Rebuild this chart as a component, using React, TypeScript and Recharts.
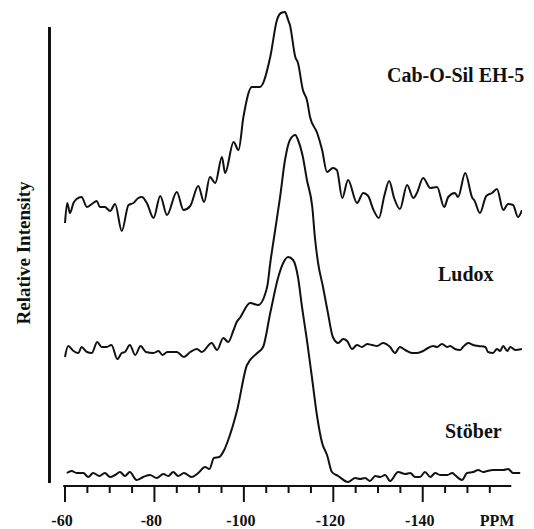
import { LineChart, Line, XAxis, YAxis, ReferenceLine } from "recharts"

// chemical shift (ppm) and relative intensity
const cabPpm = [
  -60.0, -60.5, -61.1, -61.9, -62.6, -63.7, -64.9, -66.0, -67.1, -67.8, -68.9, -70.1, -71.2, -72.7, -74.2,
  -75.3, -76.4, -77.2, -78.3, -79.8, -81.3, -82.8, -85.0, -86.5, -88.0, -89.8, -91.1, -92.4, -93.6, -95.1,
  -95.8, -97.7, -98.8, -99.9, -101.8, -103.6, -105.9, -107.4, -108.3, -109.2, -109.9, -110.3, -111.5, -112.1,
  -113.2, -114.1, -114.8, -116.4, -117.5, -118.6, -119.9, -120.8, -122.0, -123.3, -125.3, -126.7, -127.8,
  -128.9, -130.2, -131.4, -132.5, -133.6, -134.9, -136.5, -137.9, -138.7, -140.1, -141.7, -143.2, -144.8,
  -145.7, -147.2, -147.9, -149.5, -151.1, -151.5, -152.8, -154.2, -155.5, -156.6, -158.0, -159.1, -160.2,
  -161.3, -162.2,
]
const cabIntensity = [
  263, 283, 273, 283, 287, 289, 279, 282, 285, 279, 279, 275, 282, 255, 281,
  283, 288, 289, 283, 268, 290, 271, 294, 276, 280, 300, 284, 309, 303, 329,
  313, 344, 336, 369, 399, 399, 429, 466, 473, 474, 466, 461, 429, 423,
  396, 386, 369, 353, 336, 314, 318, 316, 288, 306, 283, 293, 290,
  277, 268, 290, 305, 288, 277, 301, 288, 293, 308, 298, 299, 279,
  289, 293, 289, 313, 288, 286, 273, 290, 293, 297, 276, 282, 281,
  269, 276,
]

const ludoxPpm = [
  -60.0, -60.7, -61.9, -63.0, -63.7, -64.9, -66.0, -67.2, -68.2, -69.3, -70.4, -71.7, -72.7, -73.4, -74.5,
  -75.7, -76.9, -78.1, -79.8, -80.9, -81.8, -82.9, -85.0, -86.6, -88.0, -89.5, -90.6, -92.8, -94.0, -95.4,
  -96.5, -97.7, -98.4, -99.1, -101.4, -103.2, -105.2, -105.9, -107.0, -108.1, -109.2, -110.3, -111.5, -112.1,
  -113.2, -114.1, -115.3, -115.9, -116.6, -117.7, -118.8, -119.9, -121.1, -122.2, -123.1, -124.2, -125.3,
  -126.4, -127.6, -128.7, -129.8, -131.1, -132.7, -133.8, -134.9, -136.1, -137.6, -138.7, -140.1, -141.2,
  -142.3, -143.2, -144.3, -145.5, -146.1, -147.2, -148.4, -149.0, -150.2, -151.3, -152.4, -154.0, -154.6,
  -155.7, -156.6, -157.3, -158.0, -158.9, -159.6, -160.7, -162.2,
]
const ludoxIntensity = [
  129, 140, 135, 133, 139, 134, 133, 144, 139, 139, 141, 127, 133, 134, 141,
  131, 140, 134, 133, 135, 131, 134, 134, 129, 134, 137, 134, 143, 136, 148,
  144, 156, 164, 168, 183, 181, 199, 223, 256, 289, 326, 346, 351, 346,
  329, 306, 279, 248, 223, 199, 173, 149, 143, 147, 145, 137, 141,
  139, 142, 141, 140, 143, 139, 133, 139, 136, 133, 133, 135, 138,
  140, 139, 142, 139, 140, 137, 136, 139, 143, 141, 140, 139, 134,
  133, 137, 135, 140, 135, 139, 136, 137,
]

const stoberPpm = [
  -60.4, -61.5, -62.6, -64.1, -65.2, -66.3, -67.7, -68.9, -70.1, -71.2, -72.3, -73.4, -74.5, -76.0, -77.5,
  -79.0, -80.5, -82.0, -83.1, -84.2, -85.3, -86.6, -88.3, -89.8, -91.3, -92.3, -93.3, -94.5, -95.6, -96.5,
  -98.5, -100.7, -103.0, -104.3, -105.9, -107.7, -108.8, -109.9, -111.0, -112.1, -113.0, -114.1, -115.3,
  -116.4, -117.5, -118.6, -119.7, -121.1, -123.3, -124.9, -126.0, -127.1, -128.2, -129.4, -130.5, -131.6,
  -132.7, -134.5, -136.1, -137.2, -138.3, -139.4, -140.5, -141.7, -142.8, -143.9, -145.5, -146.6, -147.2,
  -148.8, -149.9, -151.3, -152.4, -153.5, -154.4, -155.7, -158.0, -159.1, -160.2, -161.8,
]
const stoberIntensity = [
  13, 15, 13, 13, 9, 13, 10, 13, 9, 11, 14, 10, 14, 6, 9,
  11, 8, 12, 10, 14, 10, 13, 9, 13, 19, 17, 28, 29, 36, 46,
  76, 121, 133, 139, 173, 209, 223, 229, 226, 209, 179, 146, 106,
  69, 43, 31, 14, 10, 4, 8, 7, 8, 5, 10, 9, 11,
  5, 14, 12, 13, 9, 9, 14, 9, 13, 11, 11, 13, 11,
  6, 13, 14, 16, 14, 15, 16, 16, 17, 13, 13,
]

const ppmTicks = [
  -60, -65, -70, -75, -80, -85, -90, -95, -100, -105, -110, -115, -120, -125, -130, -135, -140, -145, -150, -155,
]

const toRows = (ppm: number[], vals: number[]) => ppm.map((p, i) => ({ ppm: p, intensity: vals[i] }))

const cabData = toRows(cabPpm, cabIntensity)
const ludoxData = toRows(ludoxPpm, ludoxIntensity)
const stoberData = toRows(stoberPpm, stoberIntensity)

const serif = "'Liberation Serif', 'Times New Roman', serif"
const ink = "#111"

function PpmTick({ x, y, payload }: any) {
  const v = payload.value
  const major = v % 20 === 0
  return (
    <g>
      <line x1={x} y1={y} x2={x} y2={y + (major ? 16 : 7)} stroke={ink} strokeWidth={2} />
      {major && (
        <text x={x - 3} y={y + 40} textAnchor="middle" fontFamily={serif} fontWeight="bold" fontSize={16} fill={ink}>
          {v}
        </text>
      )}
    </g>
  )
}

export default function App() {
  return (
    <div style={{ position: "absolute", left: 0, top: 0, background: "#fff" }}>
      <LineChart width={534} height={529} margin={{ top: 10, right: 12, bottom: 0, left: 46 }}>
        <XAxis
          dataKey="ppm"
          type="number"
          domain={[-162.2, -55.75]}
          reversed
          allowDataOverflow
          ticks={ppmTicks}
          interval={0}
          axisLine={false}
          tickLine={false}
          tickSize={0}
          tickMargin={0}
          height={43}
          tick={<PpmTick />}
        />
        <YAxis hide domain={[0, 476]} allowDataOverflow />
        <ReferenceLine
          segment={[{ x: -59.6, y: 0 }, { x: -159.8, y: 0 }]}
          stroke={ink}
          strokeWidth={2}
        />
        <ReferenceLine
          segment={[{ x: -56.53, y: 3 }, { x: -56.53, y: 459 }]}
          stroke={ink}
          strokeWidth={3}
        />
        <Line data={cabData} dataKey="intensity" type="monotone" stroke={ink} strokeWidth={2} dot={false} isAnimationActive={false} />
        <Line data={ludoxData} dataKey="intensity" type="monotone" stroke={ink} strokeWidth={2} dot={false} isAnimationActive={false} />
        <Line data={stoberData} dataKey="intensity" type="monotone" stroke={ink} strokeWidth={2} dot={false} isAnimationActive={false} />
        <text x={387} y={82} fontFamily={serif} fontWeight="bold" fontSize={20} fill={ink}>Cab-O-Sil EH-5</text>
        <text x={438} y={281} fontFamily={serif} fontWeight="bold" fontSize={20} fill={ink}>Ludox</text>
        <text x={445} y={438} fontFamily={serif} fontWeight="bold" fontSize={20} fill={ink}>Stöber</text>
        <text x={497} y={526} textAnchor="middle" fontFamily={serif} fontWeight="bold" fontSize={16} fill={ink}>PPM</text>
        <text
          x={30}
          y={253}
          textAnchor="middle"
          transform="rotate(-90, 30, 253)"
          fontFamily={serif}
          fontWeight="bold"
          fontSize={19}
          fill={ink}
        >
          Relative Intensity
        </text>
      </LineChart>
    </div>
  )
}
